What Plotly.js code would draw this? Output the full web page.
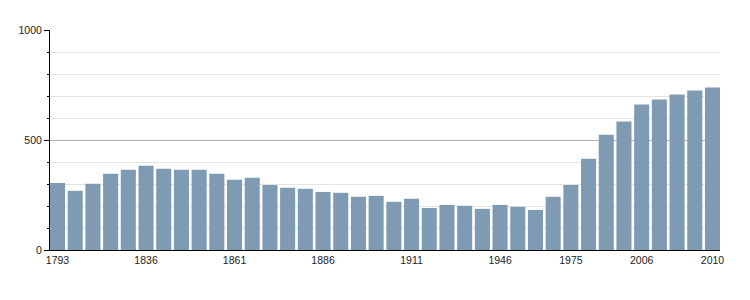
<!DOCTYPE html>
<html>
<head>
<meta charset="utf-8">
<script src="https://cdn.plot.ly/plotly-3.0.1.min.js"></script>
<style>html,body{margin:0;padding:0;background:#fff}#chart{width:750px;height:300px}</style>
</head>
<body>
<div id="chart"></div>
<script>
var years = ["1793","1800","1806","1821","1831","1836","1841","1846","1851","1856","1861","1866","1872","1876","1881","1886","1891","1896","1901","1906","1911","1921","1926","1931","1936","1946","1954","1962","1968","1975","1982","1990","1999","2006","2007","2008","2009","2010"];
var population = [305,269,301,347,365,383,369,365,365,347,319,328,296,283,278,264,260,242,246,219,233,191,205,201,187,205,196,182,242,296,415,524,584,661,684,707,725,739];
var labelYears = ["1793","1836","1861","1886","1911","1946","1975","2006","2010"];
var yTickVals = [0,500,1000];

var gap = 0.15;
Plotly.newPlot('chart', [{
  type: 'bar',
  x: years,
  y: population,
  marker: {color: '#7f9ab3', line: {width: 0}},
  hoverinfo: 'x+y'
}], {
  width: 750, height: 300,
  margin: {l: 50, r: 30, t: 30, b: 50, pad: 0},
  paper_bgcolor: '#fff', plot_bgcolor: '#fff',
  bargap: gap,
  showlegend: false,
  font: {family: 'Liberation Sans, Arial, sans-serif', size: 10.5, color: '#222'},
  xaxis: {
    type: 'category',
    range: [-0.5 + gap / 2, years.length - 0.5 - gap / 2],
    tickmode: 'array',
    tickvals: labelYears,
    ticktext: labelYears,
    ticks: '',
    showgrid: false,
    showline: true,
    linecolor: '#000',
    linewidth: 1,
    zeroline: false,
    tickangle: 0,
    fixedrange: true
  },
  yaxis: {
    range: [0, 1000],
    tickmode: 'array',
    tickvals: yTickVals,
    ticktext: yTickVals.map(String),
    ticks: 'outside',
    ticklen: 5,
    tickcolor: '#000',
    tickwidth: 1,
    showline: true,
    linecolor: '#000',
    linewidth: 1,
    showgrid: true,
    gridcolor: '#b0b0b0',
    gridwidth: 1,
    zeroline: false,
    minor: {dtick: 100, tick0: 0, ticks: 'outside', ticklen: 2, tickcolor: '#000', showgrid: true, gridcolor: '#e3e3e3', gridwidth: 1},
    fixedrange: true
  }
}, {displayModeBar: false, staticPlot: true});
</script>
</body>
</html>
